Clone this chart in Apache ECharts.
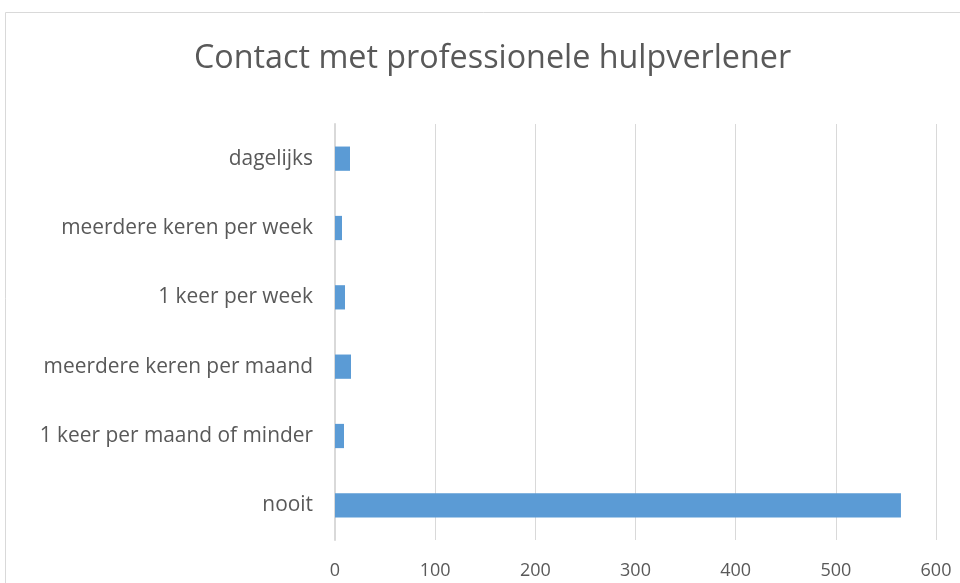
<!DOCTYPE html>
<html><head><meta charset="utf-8">
<script src="https://cdn.jsdelivr.net/npm/echarts@6/dist/echarts.min.js"></script>
<style>html,body{margin:0;padding:0;background:#fff}#c{width:960px;height:583px}</style>
</head><body><div id="c"></div>
<script>
const titleText = 'Contact met professionele hulpverlener';
const categories = ['nooit', '1 keer per maand of minder', 'meerdere keren per maand', '1 keer per week', 'meerdere keren per week', 'dagelijks'];
const values = [565, 9, 16, 10, 7, 15];
const xTicks = { min: 0, max: 600, interval: 100 };

const chart = echarts.init(document.getElementById('c'), null, { renderer: 'canvas' });
chart.setOption({
  animation: false,
  backgroundColor: '#fff',
  graphic: [{
    type: 'rect', shape: { x: 5.5, y: 12.5, width: 1000, height: 700 },
    style: { fill: 'none', stroke: '#d9d9d9', lineWidth: 1 }, silent: true
  }],
  title: {
    text: titleText, left: 189, top: 38,
    textStyle: { fontFamily: 'Open Sans', fontWeight: 'normal', fontSize: 32.3, color: '#595959' }
  },
  grid: { left: 335, right: 24, top: 124, bottom: 43, containLabel: false },
  xAxis: {
    type: 'value', min: xTicks.min, max: xTicks.max, interval: xTicks.interval,
    axisLine: { show: false }, axisTick: { show: false },
    splitLine: { show: true, lineStyle: { color: '#d9d9d9', width: 1 } },
    axisLabel: { color: '#595959', fontSize: 18, fontFamily: 'Open Sans', margin: 22 }
  },
  yAxis: {
    type: 'category', data: categories,
    axisLine: { show: true, lineStyle: { color: '#d9d9d9', width: 2 } }, axisTick: { show: false },
    axisLabel: { color: '#595959', fontSize: 20.9, fontFamily: 'Open Sans', margin: 22 }
  },
  series: [{
    type: 'bar', data: values, barWidth: '35%',
    itemStyle: { color: '#5b9bd5' }
  }]
});
</script></body></html>
